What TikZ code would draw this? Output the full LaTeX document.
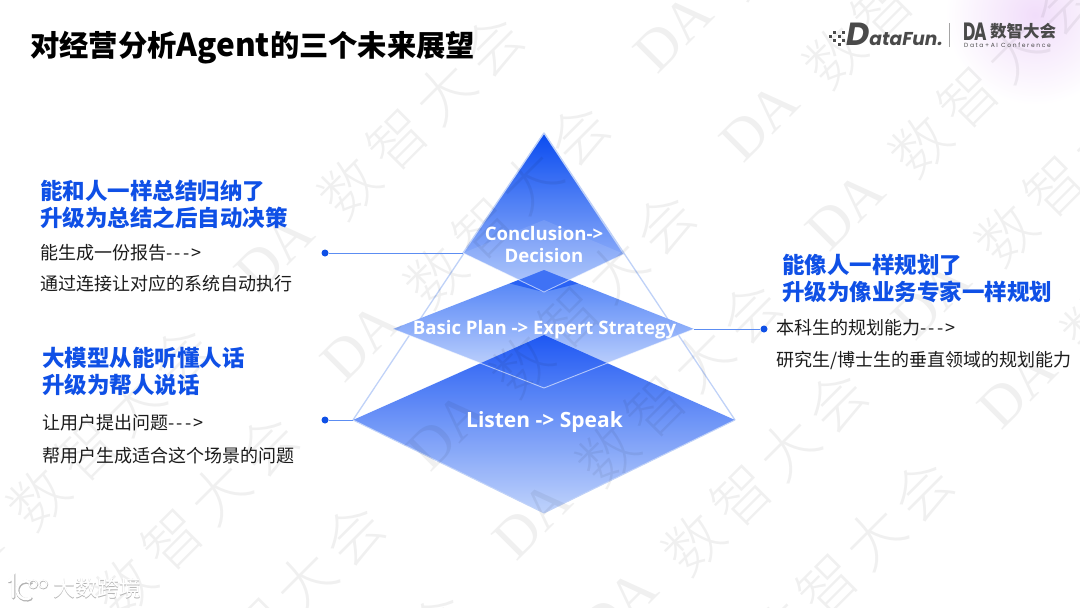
\documentclass[tikz,border=0pt]{standalone}
\usepackage{fontspec}
\usepackage{graphicx}
\setmainfont{Noto Sans CJK SC}
\newfontfamily\wmfont{Noto Sans CJK SC}[UprightFont=* Light]
\newfontfamily\wmlat{Liberation Serif}
\newfontfamily\lblfont{Open Sans}
\newfontfamily\logofont{Poppins}
\usetikzlibrary{calc}
\definecolor{headblue}{HTML}{0F50E6}
\definecolor{bodyink}{HTML}{1C1C1C}
\definecolor{edgeblue}{HTML}{C0D2F8}
\definecolor{leadblue}{HTML}{5C8DF2}
\definecolor{dotblue}{HTML}{0F50E6}
\definecolor{logoink}{HTML}{4A4A4A}
\definecolor{midtop}{HTML}{3F76F6}
\definecolor{midmid}{HTML}{6A95F8}
\definecolor{midbot}{HTML}{D4E1FD}
\definecolor{lowtop}{HTML}{1A55F3}
\definecolor{lowmid}{HTML}{3A6FF6}
\definecolor{lowbot}{HTML}{BDD1FB}
\definecolor{kitetop}{HTML}{0044F0}
\definecolor{kitemid}{HTML}{1C5CF4}
\definecolor{kitebot}{HTML}{A9C3FB}
\definecolor{kiteover}{HTML}{2A62F4}
\definecolor{glow}{HTML}{F1DDFA}
\tikzset{
  x=1pt,y=-1pt,
  wmk/.style={rotate=45,anchor=base west,inner sep=0pt,text=black,text opacity=0.06,font=\wmfont\fontsize{58}{58}\selectfont},
  title/.style={anchor=west,inner sep=0pt,font=\bfseries\fontsize{29.3}{30}\selectfont,text=black},
  head/.style={anchor=west,inner sep=0pt,font=\bfseries\fontsize{22.5}{24}\selectfont,text=headblue},
  bodytxt/.style={anchor=west,inner sep=0pt,font=\fontsize{18}{20}\selectfont,text=bodyink},
  lbl/.style={inner sep=0pt,text=white,font=\lblfont\bfseries\fontsize{#1}{#1}\selectfont},
  lead/.style={draw=leadblue,line width=1pt},
  dotn/.style={circle,fill=dotblue,inner sep=0pt,minimum size=7pt},
  shell/.style={draw=edgeblue,line width=1.3pt,line join=round},
  rim/.style={draw=white,draw opacity=0.6,line width=0.9pt,line join=round},
}
\newcommand{\wmrow}[3]{\node[wmk] (#1) at ($(#2,#3)+(-12,48)$) {{\wmlat DA}\hspace{29pt}\raisebox{-10pt}{数\hspace{9pt}智\hspace{9pt}大\hspace{9pt}会}};}
\newcommand{\dashes}{-\kern2.3pt-\kern2.3pt-\kern2.3pt>}
\begin{document}
\begin{tikzpicture}
\useasboundingbox (0,0) rectangle (1080,608);
\fill[white] (0,0) rectangle (1080,608);
\begin{scope}
\clip (0,0) rectangle (1080,608);
\shade[inner color=glow,outer color=white,draw=none] (1035,15) circle (90);
\end{scope}
% pyramid coordinates
\coordinate (apex) at (544,133);
\coordinate (tl) at (463,253);
\coordinate (tr) at (624,254);
\coordinate (tt) at (544,220);
\coordinate (tb) at (544,292);
\coordinate (ml) at (393,329);
\coordinate (mr) at (694,329);
\coordinate (mt) at (544,270);
\coordinate (mb) at (544,388);
\coordinate (ll) at (353,420);
\coordinate (lr) at (735,420);
\coordinate (lt) at (544,335);
\coordinate (lb) at (544,513);
% shell
\draw[shell] (apex) -- (ll) (apex) -- (lr);
% middle diamond
\shade[top color=midtop,middle color=midmid,bottom color=midbot,fill opacity=0.95] (ml) -- (mt) -- (mr) -- (mb) -- cycle;
% lower diamond
\shade[top color=lowtop,middle color=lowmid,bottom color=lowbot,fill opacity=0.96] (ll) -- (lt) -- (lr) -- (lb) -- cycle;
\draw[rim] (ml) -- (mb) -- (mr);
\draw[draw=edgeblue,line width=1pt,line join=round] (ll) -- (lb) -- (lr);
% top kite
\shade[top color=kitetop,middle color=kitemid,bottom color=kitebot,fill opacity=0.96] (apex) -- (tr) -- (tb) -- (tl) -- cycle;
\fill[kiteover] (mt) -- (578,283.5) -- (tb) -- (510,283.5) -- cycle;
\fill[white,fill opacity=0.10] (tl) -- (tt) -- (tr) -- (tb) -- cycle;
\draw[rim] (tl) -- (tb) -- (tr);
\draw[shell] (apex) -- (tr) (apex) -- (tl);
% watermark
\wmrow{w1}{270}{248}
\wmrow{w2}{356}{337}
\wmrow{w3}{442}{426}
\wmrow{w4}{528}{515}
\wmrow{w5}{614}{604}
\wmrow{w6}{700}{693}
\wmrow{w7}{669}{28}
\wmrow{w8}{755}{117}
\wmrow{w9}{841}{206}
\wmrow{w10}{927}{295}
\wmrow{w11}{1013}{384}
\wmrow{w12}{-41}{559}
\wmrow{w13}{45}{648}
\wmrow{w14}{131}{737}
\wmrow{w15}{217}{826}
% leaders
\node[dotn] (d1) at (325,253) {};
\node[dotn] (d2) at (325,420) {};
\node[dotn] (d3) at (764,329) {};
\draw[lead] (d1) -- (tl);
\draw[lead] (d2) -- (ll);
\draw[lead] (d3) -- (mr);
% pyramid labels
\node[lbl=18.6] (c1) at (544,234) {Conclusion->};
\node[lbl=18.6] (c2) at (544,255.5) {Decision};
\node[lbl=18.6] (c3) at (544.5,330) {Basic Plan -> Expert Strategy};
\node[lbl=21] (c4) at (544.5,422.5) {Listen -> Speak};
% texts
\node[title] (t0) at (30,48) {对经营分析{\fontsize{31.6}{32}\selectfont Agent}的三个未来展望};
\node[head] (h1) at (40,191) {能和人一样总结归纳了};
\node[head] (h2) at (40,218) {升级为总结之后自动决策};
\node[bodytxt] (b1) at (40,253) {能生成一份报告\dashes};
\node[bodytxt] (b2) at (40,284) {通过连接让对应的系统自动执行};
\node[head] (h3) at (42,358) {大模型从能听懂人话};
\node[head] (h4) at (42,385) {升级为帮人说话};
\node[bodytxt] (b3) at (42,423) {让用户提出问题\dashes};
\node[bodytxt] (b4) at (42,456) {帮用户生成适合这个场景的问题};
\node[head] (h5) at (782,265) {能像人一样规划了};
\node[head] (h6) at (782,292) {升级为像业务专家一样规划};
\node[bodytxt] (b5) at (776,328) {本科生的规划能力\dashes};
\node[bodytxt] (b6) at (776,360) {研究生/博士生的垂直领域的规划能力};
% DataFun logo
\foreach \x/\y in {829/35,833/31,833/39,838/35,838/43,842/31,842/39}{
  \fill[logoink] (\x,\y) rectangle ++(3,3);
}
\node[anchor=base west,inner sep=0pt,text=logoink,font=\logofont\bfseries\itshape\fontsize{18.6}{18.6}\selectfont] (lg1) at (846,45) {{\fontsize{32}{32}\selectfont D}ataFun.};
\draw[draw=logoink!50,line width=0.7pt] (949,23) -- (949,47);
\node[anchor=base west,inner sep=0pt,text=logoink,font=\logofont\bfseries\fontsize{25}{25}\selectfont] (lg2) at (963,40) {\scalebox{0.68}[1]{D\hspace{-2pt}A}};
\node[anchor=west,inner sep=0pt,text=logoink,font=\bfseries\fontsize{16.5}{17}\selectfont] (lg3) at (990,31.5) {数智大会};
\node[anchor=west,inner sep=0pt,text=logoink,font=\logofont\fontsize{6}{6}\selectfont] (lg4) at (964,45.5) {D a t a + A I\ \ C o n f e r e n c e};
% bottom-left mark
\begin{scope}[line cap=round]
  \foreach \col/\w/\dx/\dy in {black!30/3.6/0.6/0.8,white/2.6/0/0}{
    \draw[draw=\col,line width=\w] ($(9,581)+(\dx,\dy)$) -- ($(13,577)+(\dx,\dy)$) -- ($(13,597)+(\dx,\dy)$);
    \draw[draw=\col,line width=\w] ($(30.5,597.8)+(\dx,\dy)$) arc[start angle=60,end angle=300,radius=9];
  }
  \foreach \x in {33,43}{
    \draw[draw=black!30,line width=1.6pt] (\x.4,584.6) circle (4);
    \draw[draw=white,line width=1.1pt] (\x,584) circle (4);
  }
\end{scope}
\node[anchor=west,inner sep=0pt,text=black!30,font=\fontsize{22}{22}\selectfont] (bs) at (53.6,588.8) {大数跨境};
\node[anchor=west,inner sep=0pt,text=white,font=\fontsize{22}{22}\selectfont] (bf) at (53,588) {大数跨境};
\end{tikzpicture}
\end{document}
